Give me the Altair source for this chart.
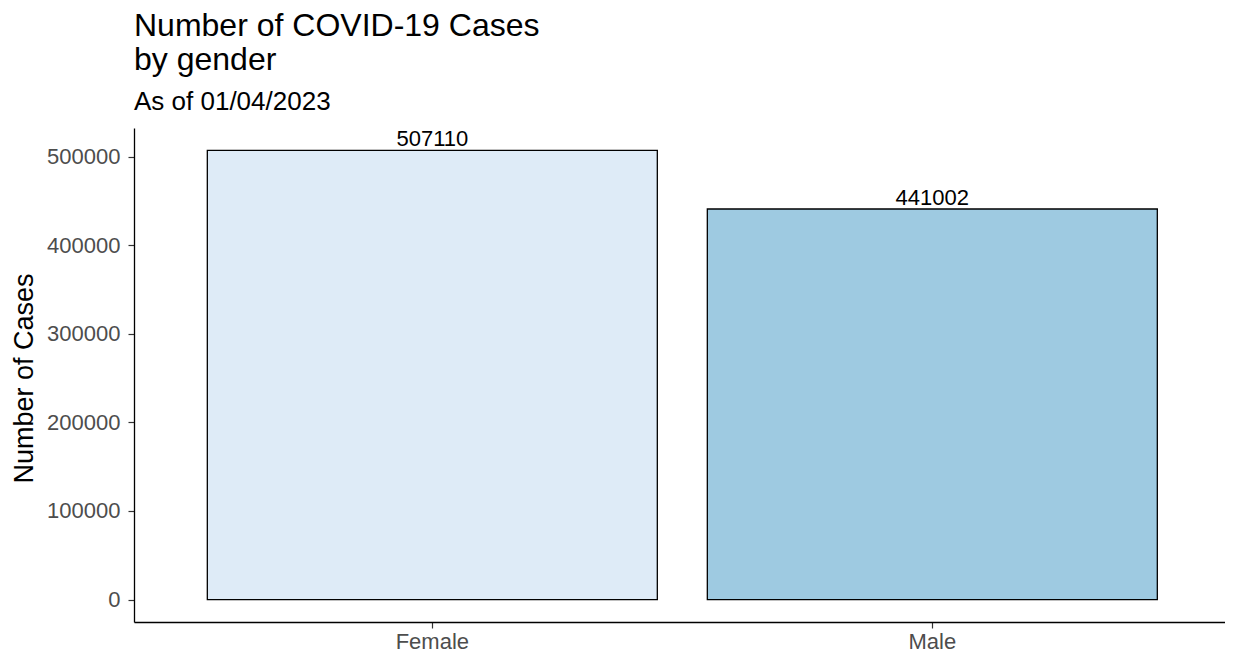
import altair as alt
import pandas as pd

genders = ["Female", "Male"]
cases = [507110, 441002]
colors = ["#DEEBF7", "#9ECAE1"]
y_ticks = [0, 100000, 200000, 300000, 400000, 500000]

df = pd.DataFrame({"gender": genders, "cases": cases})

FONT = "Liberation Sans"

x_enc = alt.X(
    "gender:N",
    sort=genders,
    scale=alt.Scale(paddingInner=0.1, paddingOuter=0.141, align=0.52),
    axis=alt.Axis(
        title=None, labelAngle=0, labelFontSize=22, labelColor="#4D4D4D",
        labelFont=FONT, tickColor="#333333", tickSize=6, tickWidth=1.2,
        domainColor="#000000", domainWidth=1.3, labelPadding=3, grid=False,
    ),
)
y_scale = alt.Scale(domain=[-25355, 532465], nice=False, zero=False)

bars = alt.Chart(df).mark_bar(stroke="black", strokeWidth=1.3).encode(
    x=x_enc,
    y=alt.Y(
        "cases:Q",
        scale=y_scale,
        axis=alt.Axis(
            title="Number of Cases", values=y_ticks, format="d",
            labelFontSize=22, labelColor="#4D4D4D", labelFont=FONT,
            titleFont=FONT, titleFontSize=27, titleFontWeight="normal",
            titleColor="#000000", titleX=-102, titleY=250,
            titleBaseline="alphabetic", titleAngle=270,
            tickColor="#333333", tickSize=6, tickWidth=1.2,
            domainColor="#000000", domainWidth=1.3, labelPadding=8, grid=False,
        ),
    ),
    y2=alt.datum(0),
    color=alt.Color("gender:N", scale=alt.Scale(domain=genders, range=colors), legend=None),
)

labels = alt.Chart(df).mark_text(
    baseline="alphabetic", dy=-4, fontSize=22, font=FONT, color="#000000"
).encode(
    x=alt.X("gender:N", sort=genders),
    y=alt.Y("cases:Q", scale=y_scale),
    text=alt.Text("cases:Q", format="d"),
)

chart = (
    alt.layer(bars, labels)
    .properties(
        width=1091,
        height=494,
        autosize=alt.AutoSizeParams(type="none"),
        padding={"left": 126, "top": 120, "right": 0, "bottom": 34},
        title=alt.TitleParams(
            text=["Number of COVID-19 Cases", "by gender"],
            subtitle="As of 01/04/2023",
            anchor="start",
            frame="group",
            font=FONT,
            fontSize=32,
            lineHeight=34,
            fontWeight="normal",
            color="#000000",
            subtitleFont=FONT,
            subtitleFontSize=26,
            subtitleColor="#000000",
            subtitlePadding=12,
            offset=12,
        ),
    )
    .configure(background="white")
    .configure_view(strokeWidth=0, stroke="transparent")
)

chart.save("out.html", embed_options={"renderer": "svg", "actions": False})
